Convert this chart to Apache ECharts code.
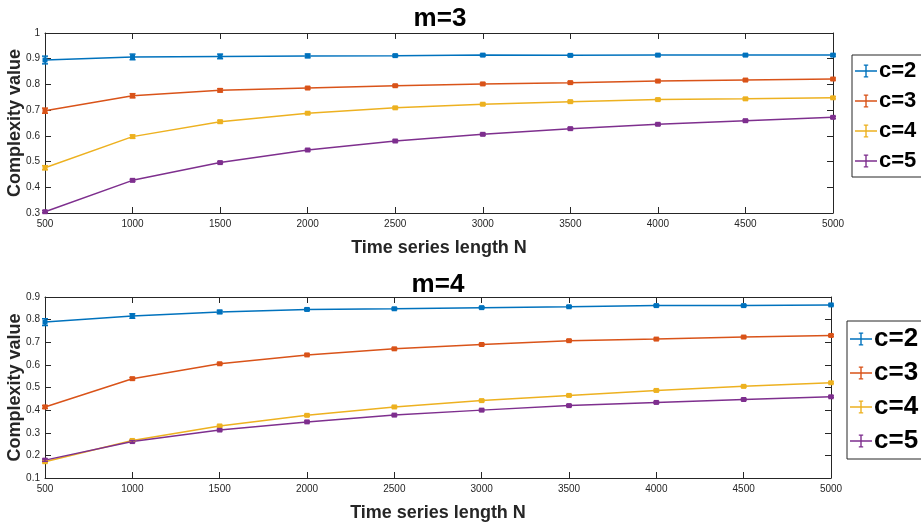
<!DOCTYPE html>
<html><head><meta charset="utf-8">
<script src="https://cdn.jsdelivr.net/npm/echarts@6/dist/echarts.min.js"></script>
<style>html,body{margin:0;padding:0;background:#fff}#c{width:921px;height:523px}</style>
</head><body><div id="c"></div>
<script>
const lengths = [500,1000,1500,2000,2500,3000,3500,4000,4500,5000];
const names = ['c=2','c=3','c=4','c=5'];
const colors = ['#0072BD','#D95319','#EDB120','#7E2F8E'];
// m=3
const m3_c2 = [0.895,0.907,0.909,0.911,0.912,0.914,0.913,0.914,0.914,0.914];
const m3_c3 = [0.698,0.756,0.777,0.786,0.795,0.802,0.807,0.813,0.817,0.821];
const m3_c4 = [0.476,0.597,0.655,0.688,0.709,0.723,0.733,0.741,0.744,0.748];
const m3_c5 = [0.305,0.427,0.496,0.545,0.580,0.606,0.628,0.645,0.659,0.672];
const m3_e2 = [0.015,0.011,0.009,0.007,0.004,0.004,0.004,0.004,0.004,0.004];
const m3_e3 = [0.010,0.008,0.006,0.004,0.004,0.004,0.004,0.004,0.004,0.004];
const m3_e4 = [0.008,0.006,0.005,0.004,0.004,0.004,0.004,0.004,0.004,0.004];
const m3_e5 = [0.004,0.004,0.004,0.004,0.004,0.004,0.004,0.004,0.004,0.004];
// m=4
const m4_c2 = [0.789,0.816,0.834,0.845,0.848,0.853,0.857,0.862,0.862,0.865];
const m4_c3 = [0.414,0.539,0.605,0.644,0.671,0.690,0.707,0.714,0.723,0.730];
const m4_c4 = [0.172,0.266,0.330,0.377,0.414,0.442,0.465,0.487,0.505,0.521];
const m4_c5 = [0.179,0.261,0.312,0.348,0.378,0.400,0.420,0.434,0.447,0.459];
const m4_e2 = [0.015,0.010,0.007,0.005,0.004,0.004,0.004,0.004,0.004,0.004];
const m4_e3 = [0.006,0.005,0.004,0.004,0.004,0.004,0.004,0.004,0.004,0.004];
const m4_e4 = [0.005,0.004,0.004,0.004,0.004,0.004,0.004,0.004,0.004,0.004];
const m4_e5 = [0.005,0.004,0.004,0.004,0.004,0.004,0.004,0.004,0.004,0.004];

const FONT = 'Liberation Sans, Arial, Helvetica, sans-serif';
const AX = '#262626';

function xAxes(gi){
  return [
    {type:'value',gridIndex:gi,min:500,max:5000,interval:500,position:'bottom',
     axisLine:{onZero:false,lineStyle:{color:AX,width:1}},
     axisTick:{inside:true,length:6,lineStyle:{color:AX}},
     axisLabel:{color:AX,fontSize:10,fontFamily:FONT,margin:6,formatter:v=>String(v)},
     splitLine:{show:false},
     name:'Time series length N',nameLocation:'middle',nameGap:26,nameMoveOverlap:false,
     nameTextStyle:{color:AX,fontSize:18,fontWeight:'bold',fontFamily:FONT}},
    {type:'value',gridIndex:gi,min:500,max:5000,interval:500,position:'top',
     axisLine:{onZero:false,lineStyle:{color:AX,width:1}},
     axisTick:{inside:true,length:6,lineStyle:{color:AX}},
     axisLabel:{show:false},splitLine:{show:false}}
  ];
}
function yAxes(gi,min,max){
  return [
    {type:'value',gridIndex:gi,min:min,max:max,interval:0.1,position:'left',
     axisLine:{show:true,onZero:false,lineStyle:{color:AX,width:1}},
     axisTick:{show:true,inside:true,length:6,lineStyle:{color:AX}},
     axisLabel:{color:AX,fontSize:10,fontFamily:FONT,margin:5,formatter:v=>String(+v.toFixed(1))},
     splitLine:{show:false},
     name:'Complexity value',nameLocation:'middle',nameGap:21,nameMoveOverlap:false,
     nameTextStyle:{color:AX,fontSize:18,fontWeight:'bold',fontFamily:FONT}},
    {type:'value',gridIndex:gi,min:min,max:max,interval:0.1,position:'right',
     axisLine:{show:true,onZero:false,lineStyle:{color:AX,width:1}},
     axisTick:{show:true,inside:true,length:6,lineStyle:{color:AX}},
     axisLabel:{show:false},splitLine:{show:false}}
  ];
}

function lineSeries(name,vals,color,xi,yi){
  return {type:'line',name:name+' line',xAxisIndex:xi,yAxisIndex:yi,
    data:lengths.map((x,i)=>[x,vals[i]]),color:color,
    lineStyle:{width:1.5,color:color},symbol:'rect',symbolSize:5,
    itemStyle:{color:color},showSymbol:true,z:3,animation:false};
}
function errSeries(name,vals,errs,color,xi,yi){
  return {type:'custom',name:name,xAxisIndex:xi,yAxisIndex:yi,
    itemStyle:{color:color},
    data:lengths.map((x,i)=>[x,vals[i],errs[i]]),z:4,animation:false,
    renderItem:function(params,api){
      const x=api.value(0),y=api.value(1),e=api.value(2);
      const lo=api.coord([x,y-e]),hi=api.coord([x,y+e]);
      const w=3;
      const st={stroke:color,lineWidth:1.5};
      return {type:'group',children:[
        {type:'line',shape:{x1:lo[0],y1:lo[1],x2:hi[0],y2:hi[1]},style:st},
        {type:'line',shape:{x1:lo[0]-w,y1:lo[1],x2:lo[0]+w,y2:lo[1]},style:st},
        {type:'line',shape:{x1:hi[0]-w,y1:hi[1],x2:hi[0]+w,y2:hi[1]},style:st}
      ]};
    }};
}

// icon 22 x 14 box: horizontal line + vertical error bar with caps
const icon = 'path://M0,6.3 L22,6.3 L22,7.7 L0,7.7 Z M10.3,0.5 L11.7,0.5 L11.7,13.5 L10.3,13.5 Z M8.8,0.5 L13.2,0.5 L13.2,1.7 L8.8,1.7 Z M8.8,12.3 L13.2,12.3 L13.2,13.5 L8.8,13.5 Z M0,0 L0.01,0 L0.01,0.01 Z M22,14 L21.99,14 L21.99,13.99 Z';

const series = [];
[[m3_c2,m3_e2],[m3_c3,m3_e3],[m3_c4,m3_e4],[m3_c5,m3_e5]].forEach((p,i)=>{
  series.push(lineSeries(names[i],p[0],colors[i],0,0));
  series.push(errSeries(names[i],p[0],p[1],colors[i],0,0));
});
[[m4_c2,m4_e2],[m4_c3,m4_e3],[m4_c4,m4_e4],[m4_c5,m4_e5]].forEach((p,i)=>{
  series.push(lineSeries(names[i],p[0],colors[i],2,2));
  series.push(errSeries(names[i],p[0],p[1],colors[i],2,2));
});

const chart = echarts.init(document.getElementById('c'),null,{renderer:'canvas'});
chart.setOption({
  backgroundColor:'#fff',
  animation:false,
  title:[
    {text:'m=3',left:435,top:1,textAlign:'center',textStyle:{fontSize:26,fontWeight:'bold',color:'#000',fontFamily:FONT}},
    {text:'m=4',left:433,top:267,textAlign:'center',textStyle:{fontSize:26,fontWeight:'bold',color:'#000',fontFamily:FONT}}
  ],
  grid:[
    {left:45,top:33,width:788,height:180,containLabel:false,outerBoundsMode:'none'},
    {left:45,top:297,width:786,height:181,containLabel:false,outerBoundsMode:'none'}
  ],
  xAxis:[...xAxes(0),...xAxes(1)],
  yAxis:[...yAxes(0,0.3,1),...yAxes(1,0.1,0.9)],
  legend:[
    {data:names,orient:'vertical',left:852,top:55,icon:icon,itemWidth:22,itemHeight:14,itemGap:8,
     padding:[5,20,5,3],borderColor:'#262626',borderWidth:1,backgroundColor:'#fff',selectedMode:false,
     textStyle:{fontSize:22,fontWeight:'bold',color:'#000',fontFamily:FONT,padding:[0,0,0,-3]}},
    {data:names,orient:'vertical',left:847,top:321,icon:icon,itemWidth:22,itemHeight:14,itemGap:8,
     padding:[5,20,5,3],borderColor:'#262626',borderWidth:1,backgroundColor:'#fff',selectedMode:false,
     textStyle:{fontSize:26,fontWeight:'bold',color:'#000',fontFamily:FONT,padding:[0,0,0,-3]}}
  ],
  series:series
});
</script></body></html>
